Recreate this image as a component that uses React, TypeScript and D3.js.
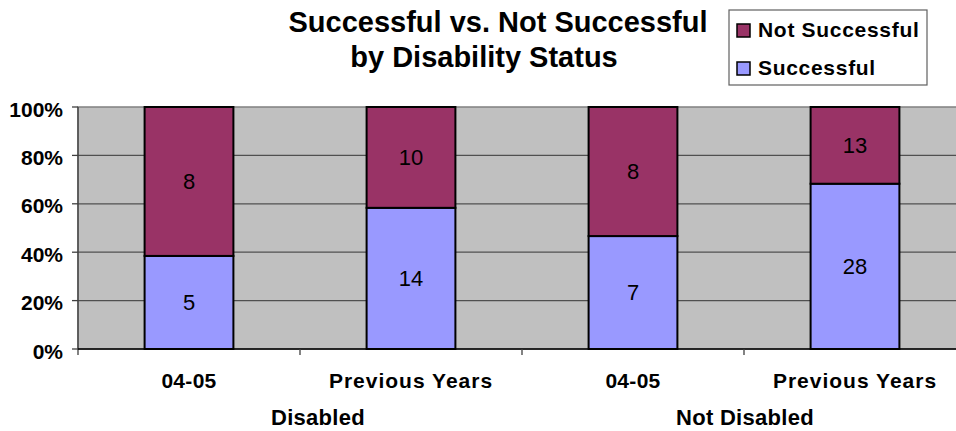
import React from 'react'
import * as d3 from 'd3'

const W = 956, H = 431
const LEFT = 78, RIGHT = 966, TOP = 107, BOTTOM = 349
const FONT = '"Liberation Sans", Arial, sans-serif'

const categories = ['04-05', 'Previous Years', '04-05', 'Previous Years']
const groups = ['Disabled', 'Not Disabled']
const successful = [5, 14, 7, 28]
const notSuccessful = [8, 10, 8, 13]
const yTicks = [0, 0.2, 0.4, 0.6, 0.8, 1]
const seriesNames = ['Successful', 'Not Successful']
const colors = { 'Successful': '#9999FF', 'Not Successful': '#993366' }

export default function App() {
  const keys = categories.map((c, i) => `${i}`)
  const rows = keys.map((k, i) => ({ key: k, 'Successful': successful[i], 'Not Successful': notSuccessful[i] }))
  const stack = d3.stack<any>().keys(seriesNames).offset(d3.stackOffsetExpand)
  const layers = stack(rows)

  const x = d3.scaleBand().domain(keys).range([LEFT, RIGHT]).padding(0)
  const xg = d3.scaleBand().domain(groups).range([LEFT, RIGHT]).padding(0)
  const y = d3.scaleLinear().domain([0, 1]).range([BOTTOM, TOP])
  const bw = x.bandwidth()
  const barW = bw * 0.4

  return (
    <svg width={W} height={H} style={{ position: 'absolute', left: 0, top: 0, fontFamily: FONT }}>
      {/* plot background */}
      <rect x={LEFT} y={TOP} width={RIGHT - LEFT} height={BOTTOM - TOP} fill="#C0C0C0" stroke="#808080" strokeWidth={1.5} />
      {yTicks.filter(t => t > 0 && t < 1).map(t => (
        <line key={t} x1={LEFT} x2={RIGHT} y1={y(t)} y2={y(t)} stroke="#505050" strokeWidth={1.3} />
      ))}

      {/* bars */}
      {layers.map(layer => layer.map((d, i) => {
        const x0 = (x(keys[i]) as number) + (bw - barW) / 2
        return (
          <g key={layer.key + i}>
            <rect x={x0} y={y(d[1])} width={barW} height={y(d[0]) - y(d[1])}
              fill={colors[layer.key as keyof typeof colors]} stroke="#000" strokeWidth={2} />
            <text x={x0 + barW / 2} y={(y(d[0]) + y(d[1])) / 2} dy="0.36em" textAnchor="middle"
              fontSize={22} fill="#000">{(d.data as any)[layer.key]}</text>
          </g>
        )
      }))}

      {/* y axis */}
      <line x1={LEFT} x2={LEFT} y1={TOP} y2={BOTTOM + 6} stroke="#404040" strokeWidth={1.3} />
      {yTicks.map(t => (
        <g key={t}>
          <line x1={LEFT - 6} x2={LEFT} y1={y(t)} y2={y(t)} stroke="#404040" strokeWidth={1.3} />
          <text x={63} y={y(t) + 2} dy="0.36em" textAnchor="end" fontSize={21} fontWeight="bold">{`${Math.round(t * 100)}%`}</text>
        </g>
      ))}

      {/* x axis */}
      <line x1={LEFT} x2={RIGHT} y1={BOTTOM} y2={BOTTOM} stroke="#000" strokeWidth={1.5} />
      {keys.map(k => (
        <line key={k} x1={(x(k) as number) + bw} x2={(x(k) as number) + bw} y1={BOTTOM} y2={BOTTOM + 6} stroke="#404040" strokeWidth={1.3} />
      ))}
      {categories.map((c, i) => (
        <text key={i} x={(x(keys[i]) as number) + bw / 2} y={388} textAnchor="middle" fontSize={21}
          fontWeight="bold" letterSpacing={c.length > 6 ? 1 : 0.3}>{c}</text>
      ))}
      {groups.map((g, i) => (
        <text key={g} x={(xg(g) as number) + xg.bandwidth() / 2 + (i === 0 ? 18 : 1)} y={425}
          textAnchor="middle" fontSize={22} fontWeight="bold" letterSpacing={0.3}>{g}</text>
      ))}

      {/* title */}
      <text x={498} y={32} textAnchor="middle" fontSize={29} fontWeight="bold">Successful vs. Not Successful</text>
      <text x={484} y={67} textAnchor="middle" fontSize={29} fontWeight="bold">by Disability Status</text>

      {/* legend */}
      <rect x={729} y={10} width={198} height={75} fill="#fff" stroke="#606060" strokeWidth={1.2} />
      {['Not Successful', 'Successful'].map((s, i) => (
        <g key={s}>
          <rect x={737} y={24 + i * 38} width={13} height={13} fill={colors[s as keyof typeof colors]} stroke="#000" strokeWidth={1.5} />
          <text x={758} y={37 + i * 38} fontSize={21} fontWeight="bold" letterSpacing={0.7}>{s}</text>
        </g>
      ))}
    </svg>
  )
}
